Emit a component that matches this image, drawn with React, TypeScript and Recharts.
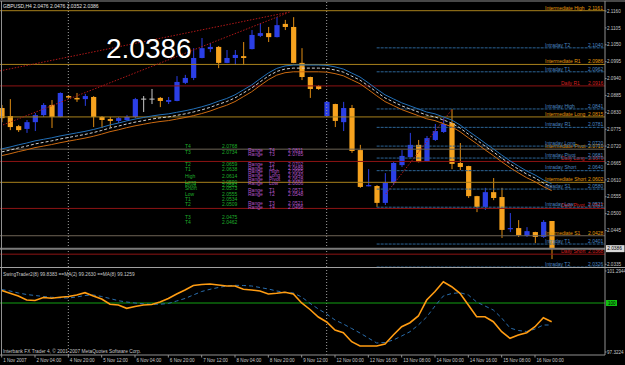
import React from 'react';
import { ComposedChart, Bar, Line, XAxis, YAxis, ReferenceLine } from 'recharts';

const FONT = '"Liberation Sans", Arial, sans-serif';

// ---------- data ----------
const symbolTitle = 'GBPUSD,H4  2.0476 2.0476 2.0352 2.0386';
const lastPrice = 2.0386;

const opens = [2.0844, 2.0818, 2.0785, 2.0776, 2.0798, 2.0821, 2.0854, 2.0815, 2.0883, 2.0877,
  2.0873, 2.0880, 2.0815, 2.0808, 2.0802, 2.0805, 2.0815, 2.0873, 2.0873, 2.0877,
  2.0864, 2.0867, 2.0926, 2.0942, 2.1007, 2.1036, 2.1043, 2.0991, 2.1007, 2.1013,
  2.1036, 2.1079, 2.1088, 2.1075, 2.1118, 2.1108, 2.0991, 2.0945, 2.0916, 2.0818,
  2.0857, 2.0798, 2.0844, 2.0707, 2.0590, 2.0590, 2.0535, 2.0600, 2.0658, 2.0684,
  2.0724, 2.0671, 2.0740, 2.0766, 2.0795, 2.0665, 2.0655, 2.0557, 2.0522, 2.0570,
  2.0554, 2.0450, 2.0453, 2.0427, 2.0440, 2.0424, 2.0476];
const highs = [2.0854, 2.0873, 2.0789, 2.0805, 2.0828, 2.0860, 2.0870, 2.0895, 2.0886, 2.0893,
  2.0890, 2.0883, 2.0818, 2.0815, 2.0815, 2.0821, 2.0877, 2.0883, 2.0906, 2.0880,
  2.0880, 2.0948, 2.0952, 2.1039, 2.1072, 2.1056, 2.1046, 2.1033, 2.1033, 2.1059,
  2.1098, 2.1121, 2.1108, 2.1140, 2.1131, 2.1140, 2.1039, 2.0946, 2.0919, 2.0867,
  2.0858, 2.0864, 2.0854, 2.0724, 2.0645, 2.0593, 2.0632, 2.0668, 2.0707, 2.0763,
  2.0740, 2.0753, 2.0792, 2.0811, 2.0841, 2.0730, 2.0656, 2.0558, 2.0584, 2.0616,
  2.0584, 2.0502, 2.0479, 2.0456, 2.0441, 2.0479, 2.0476];
const lows = [2.0798, 2.0772, 2.0766, 2.0763, 2.0769, 2.0815, 2.0779, 2.0814, 2.0877, 2.0864,
  2.0851, 2.0782, 2.0779, 2.0782, 2.0795, 2.0802, 2.0811, 2.0831, 2.0857, 2.0847,
  2.0857, 2.0866, 2.0922, 2.0935, 2.1006, 2.1026, 2.0974, 2.0990, 2.0984, 2.0984,
  2.1035, 2.1075, 2.1059, 2.1074, 2.1098, 2.0990, 2.0935, 2.0877, 2.0903, 2.0815,
  2.0782, 2.0769, 2.0698, 2.0584, 2.0589, 2.0522, 2.0528, 2.0593, 2.0652, 2.0683,
  2.0667, 2.0668, 2.0737, 2.0763, 2.0645, 2.0642, 2.0551, 2.0505, 2.0512, 2.0544,
  2.0421, 2.0440, 2.0424, 2.0424, 2.0404, 2.0421, 2.0352];
const closes = [2.0811, 2.0782, 2.0772, 2.0798, 2.0821, 2.0854, 2.0815, 2.0893, 2.0878, 2.0872,
  2.0883, 2.0815, 2.0805, 2.0802, 2.0811, 2.0815, 2.0873, 2.0873, 2.0873, 2.0867,
  2.0870, 2.0929, 2.0942, 2.1007, 2.1039, 2.1043, 2.0991, 2.1007, 2.1017, 2.1007,
  2.1082, 2.1088, 2.1075, 2.1114, 2.1108, 2.0991, 2.0945, 2.0906, 2.0906, 2.0864,
  2.0802, 2.0844, 2.0704, 2.0587, 2.0593, 2.0535, 2.0600, 2.0665, 2.0688, 2.0724,
  2.0668, 2.0746, 2.0769, 2.0792, 2.0662, 2.0652, 2.0557, 2.0522, 2.0570, 2.0551,
  2.0447, 2.0453, 2.0430, 2.0443, 2.0424, 2.0473, 2.0386];

const maFast = [2.0711, 2.0717, 2.0724, 2.0730, 2.0737, 2.0742, 2.0747, 2.0753, 2.0758, 2.0763,
  2.0768, 2.0774, 2.0781, 2.0789, 2.0795, 2.0802, 2.0808, 2.0813, 2.0818, 2.0822,
  2.0825, 2.0830, 2.0835, 2.0841, 2.0848, 2.0856, 2.0866, 2.0875, 2.0887, 2.0903,
  2.0919, 2.0939, 2.0958, 2.0973, 2.0981, 2.0984, 2.0984, 2.0984, 2.0984, 2.0983,
  2.0978, 2.0971, 2.0958, 2.0945, 2.0926, 2.0906, 2.0887, 2.0874, 2.0861, 2.0851,
  2.0841, 2.0831, 2.0825, 2.0815, 2.0805, 2.0789, 2.0769, 2.0750, 2.0730, 2.0711,
  2.0691, 2.0672, 2.0655, 2.0639, 2.0626, 2.0610, 2.0597];
const maMid = [2.0701, 2.0707, 2.0714, 2.0720, 2.0727, 2.0732, 2.0737, 2.0743, 2.0748, 2.0753,
  2.0758, 2.0764, 2.0771, 2.0779, 2.0785, 2.0792, 2.0798, 2.0803, 2.0808, 2.0812,
  2.0815, 2.0820, 2.0825, 2.0831, 2.0838, 2.0846, 2.0856, 2.0865, 2.0877, 2.0893,
  2.0909, 2.0929, 2.0948, 2.0963, 2.0971, 2.0974, 2.0974, 2.0974, 2.0974, 2.0973,
  2.0968, 2.0961, 2.0948, 2.0935, 2.0916, 2.0896, 2.0877, 2.0864, 2.0851, 2.0841,
  2.0831, 2.0821, 2.0815, 2.0805, 2.0795, 2.0779, 2.0759, 2.0740, 2.0720, 2.0701,
  2.0681, 2.0662, 2.0645, 2.0629, 2.0616, 2.0600, 2.0587];
const maSlow = [2.0689, 2.0695, 2.0702, 2.0708, 2.0715, 2.0720, 2.0725, 2.0731, 2.0736, 2.0741,
  2.0746, 2.0752, 2.0759, 2.0767, 2.0773, 2.0780, 2.0786, 2.0791, 2.0796, 2.0800,
  2.0803, 2.0808, 2.0813, 2.0819, 2.0826, 2.0834, 2.0844, 2.0853, 2.0865, 2.0881,
  2.0897, 2.0917, 2.0936, 2.0951, 2.0959, 2.0962, 2.0962, 2.0962, 2.0962, 2.0961,
  2.0956, 2.0949, 2.0936, 2.0923, 2.0904, 2.0884, 2.0865, 2.0852, 2.0839, 2.0829,
  2.0819, 2.0809, 2.0803, 2.0793, 2.0783, 2.0767, 2.0747, 2.0728, 2.0708, 2.0689,
  2.0669, 2.0650, 2.0633, 2.0617, 2.0604, 2.0588, 2.0575];

const swing = [100.338, 100.201, 100.069, 99.872, 99.848, 99.995, 99.956, 100.005, 100.044, 100.118,
  100.230, 100.069, 99.921, 99.662, 99.627, 99.465, 99.554, 99.627, 99.652, 99.774,
  99.946, 100.167, 100.363, 100.583, 100.632, 100.657, 100.608, 100.559, 100.559, 100.397,
  100.363, 100.314, 100.167, 100.201, 100.250, 100.167, 99.725, 99.407, 99.039, 98.794,
  98.401, 98.269, 97.828, 97.617, 97.617, 97.617, 97.715, 98.156, 98.563, 98.759,
  99.088, 99.872, 100.289, 100.770, 100.525, 100.201, 99.627, 99.053, 99.053, 98.808,
  98.318, 97.994, 98.156, 98.269, 98.563, 99.004, 98.808];
const swingMa = [100.387, 100.314, 100.216, 100.142, 100.093, 100.044, 100.005, 99.980, 99.970, 100.019,
  100.093, 100.118, 100.044, 99.946, 99.838, 99.774, 99.725, 99.686, 99.662, 99.666,
  99.701, 99.823, 99.946, 100.118, 100.289, 100.397, 100.485, 100.559, 100.593, 100.583,
  100.559, 100.485, 100.412, 100.314, 100.250, 100.216, 100.019, 99.711, 99.431, 99.186,
  98.892, 98.695, 98.475, 98.254, 98.009, 97.764, 97.788, 97.911, 98.107, 98.318,
  98.646, 99.039, 99.578, 100.069, 100.191, 100.230, 100.118, 99.774, 99.578, 99.382,
  98.990, 98.499, 98.377, 98.328, 98.450, 98.646, 98.646];

const timeLabels = ['1 Nov 2007', '2 Nov 04:00', '4 Nov 20:00', '5 Nov 12:00', '6 Nov 04:00', '6 Nov 20:00',
  '7 Nov 12:00', '8 Nov 04:00', '8 Nov 20:00', '9 Nov 12:00', '12 Nov 00:00', '12 Nov 16:00',
  '13 Nov 08:00', '14 Nov 00:00', '14 Nov 16:00', '15 Nov 08:00', '16 Nov 00:00'];
const timeLabelBars = [0, 4, 8, 12, 16, 20, 24, 28, 32, 36, 40, 44, 48, 52, 56, 60, 64];
const weekStartBars = [8, 39];

const priceTicks = [2.1160, 2.1105, 2.1050, 2.0995, 2.0940, 2.0885, 2.0830, 2.0775, 2.0720,
  2.0665, 2.0610, 2.0555, 2.0500, 2.0445, 2.0335];
const oscTicks = [101.2944, 97.3224];
const oscLevel = 99.725;
const oscLevelText = '100';

const fullLevels = [
  { name: 'Intermediate High', value: 2.1161, kind: 'inter' },
  { name: 'Intermediate R1', value: 2.0986, kind: 'inter' },
  { name: 'Daily  R1', value: 2.0916, kind: 'daily' },
  { name: 'Intermediate Long', value: 2.0815, kind: 'inter' },
  { name: 'Intermediate Pivot', value: 2.0710, kind: 'interGray' },
  { name: 'Daily Long', value: 2.0670, kind: 'daily' },
  { name: 'Intermediate Short', value: 2.0602, kind: 'inter' },
  { name: 'Daily Pivot', value: 2.0517, kind: 'daily' },
  { name: 'Intermediate  S1', value: 2.0428, kind: 'interGray' },
  { name: 'Daily Short', value: 2.0368, kind: 'daily' },
];
const intradayStartBar = 45;
const intradayLevels = [
  { name: 'Intraday   T2', value: 2.1040 },
  { name: 'Intraday   T1', value: 2.0962 },
  { name: 'Intraday High', value: 2.0841 },
  { name: 'Intraday   R1', value: 2.0781 },
  { name: 'Intraday Long', value: 2.0720 },
  { name: 'Intraday Pivot', value: 2.0681 },
  { name: 'Intraday Short', value: 2.0640 },
  { name: 'Intraday   S1', value: 2.0580 },
  { name: 'Intraday Low', value: 2.0521 },
  { name: 'Intraday   T1', value: 2.0401 },
  { name: 'Intraday   T2', value: 2.0326 },
];

const trendLines = [
  { x1: -0.2, y1: 2.0965, x2: 34.6, y2: 2.1157 },
  { x1: 0.16, y1: 2.0789, x2: 34.24, y2: 2.1153 },
  { x1: 46.1, y1: 2.0564, x2: 54.0, y2: 2.0838 },
];

const statNames = ['T4', 'T3', 'T2', 'T1', 'High', 'Long', 'Pivot', 'Short', 'Low', 'T1', 'T2', 'T3', 'T4'];
const statValues = ['2.0768', '2.0734', '2.0659', '2.0638', '2.0614', '2.0590', '2.0582', '2.0573', '2.0555', '2.0534', '2.0509', '2.0475', '2.0462'];
const rangeTags = ['T4', 'T3', 'T2', 'T1', 'High', 'Long', 'Pivot', 'Low', 'T1', 'T2', 'T3', 'T4'];
const rangeValues = ['2.0811', '2.0785', '2.0702', '2.0688', '2.0665', '2.0640', '2.0628', '2.0606', '2.0571', '2.0548', '2.0521', '2.0496'];

const oscHeader = 'SwingTrader2(8) 99.8383  ==MA(2) 99.2630  ==MA(8) 99.1259';
const footer = 'Interbank FX Trader 4, \u00A9 2001-2007 MetaQuotes Software Corp.';

// ---------- layout / styles ----------
const STAT_ROW_Y = [148, 153.5, 166, 171, 177.5, 184, 187, 190, 195.5, 201, 206, 219, 224];
const RANGE_ROW_Y = [152, 156, 166, 169.5, 173, 177, 180.5, 185, 192, 196, 205, 209];

const BULL = '#2b3fe6';
const BEAR = '#f6a21e';
const DOJI = '#c8c8c8';
const X_DOMAIN: [number, number] = [-0.2, 72.4];

const rows = opens.map((o, i) => ({
  i,
  open: o,
  high: highs[i],
  low: lows[i],
  close: closes[i],
  range: [lows[i], highs[i]],
  maFast: maFast[i],
  maMid: maMid[i],
  maSlow: maSlow[i],
  swing: swing[i],
  swingMa: swingMa[i],
}));

const Candle = (props: any) => {
  const { x, y, width, height, payload } = props;
  if (!payload || x == null || y == null) return null;
  const cx = x + (width || 0) / 2;
  const top = Math.min(y, y + height);
  const h = Math.abs(height);
  const span = payload.high - payload.low;
  const py = (v: number) => (span > 0 ? top + ((payload.high - v) / span) * h : top);
  const yo = py(payload.open);
  const yc = py(payload.close);
  const bull = payload.close > payload.open;
  const bear = payload.close < payload.open;
  const color = bull ? BULL : bear ? BEAR : DOJI;
  const bodyTop = Math.min(yo, yc);
  const bodyH = Math.max(Math.abs(yc - yo), 1.2);
  return (
    <g>
      <line x1={cx} x2={cx} y1={top} y2={top + h} stroke={bear ? '#e08c12' : color} strokeWidth={1} />
      {bull || bear ? (
        <rect x={cx - 2.6} y={bodyTop} width={5.2} height={bodyH} fill={color} />
      ) : (
        <line x1={cx - 2.6} x2={cx + 2.6} y1={yo} y2={yo} stroke={color} strokeWidth={1} />
      )}
    </g>
  );
};

const levelStyle: Record<string, { line: string; text: string; nameOffset: number }> = {
  inter: { line: '#a8801c', text: '#e39a0c', nameOffset: 60 },
  interGray: { line: '#6e6456', text: '#e39a0c', nameOffset: 60 },
  daily: { line: '#8e1414', text: '#d42020', nameOffset: 44 },
  intraday: { line: '#2c6496', text: '#4b86c2', nameOffset: 60 },
};

const makeLevelLabel = (name: string, value: number, kind: string) => (props: any) => {
  const vb = props.viewBox;
  if (!vb) return null;
  const st = levelStyle[kind];
  const right = vb.x + vb.width;
  const y = vb.y - 1.2;
  return (
    <g>
      <text x={right - st.nameOffset} y={y} fontSize={5} fill={st.text} fontFamily={FONT}>{name}</text>
      <text x={right - 17} y={y} fontSize={5} fill={st.text} fontFamily={FONT}>{value.toFixed(4)}</text>
    </g>
  );
};

const priceBox = (props: any) => {
  const vb = props.viewBox;
  if (!vb) return null;
  const x = vb.x + vb.width + 1;
  return (
    <g>
      <rect x={x} y={vb.y - 3.5} width={18.5} height={7} fill="#d8d8d8" />
      <text x={x + 1.2} y={vb.y + 1.8} fontSize={4.8} fill="#000" fontFamily={FONT}>{lastPrice.toFixed(4)}</text>
    </g>
  );
};

const levelBox = (props: any) => {
  const vb = props.viewBox;
  if (!vb) return null;
  const x = vb.x + vb.width + 1;
  return (
    <g>
      <rect x={x} y={vb.y - 3} width={11} height={6} fill="#10c010" />
      <text x={x + 2} y={vb.y + 1.7} fontSize={4.6} fill="#000" fontFamily={FONT}>{oscLevelText}</text>
    </g>
  );
};

const TimeTick = (props: any) => {
  const { x, y, payload } = props;
  const idx = timeLabelBars.indexOf(payload.value);
  if (idx < 0) return null;
  return (
    <g>
      <line x1={x} x2={x} y1={y - 2} y2={y + 0.5} stroke="#909090" strokeWidth={1} />
      <text x={x + 1.5} y={y + 5} fontSize={4.6} fill="#c8c8c8" fontFamily={FONT}>{timeLabels[idx]}</text>
    </g>
  );
};

const axisTick = { fontSize: 4.6, fill: '#c8c8c8', fontFamily: FONT };

export default function App() {
  return (
    <div style={{ position: 'absolute', left: 0, top: 0, width: 625, height: 365, background: '#000', overflow: 'hidden' }}>
      {/* main price panel */}
      <div style={{ position: 'absolute', left: 0, top: 0 }}>
        <ComposedChart width={625} height={268} data={rows} margin={{ top: 1, right: 0, bottom: 1, left: 0 }}>
          <XAxis dataKey="i" type="number" domain={X_DOMAIN} hide allowDataOverflow />
          <YAxis
            orientation="right"
            width={20}
            domain={[2.03262, 2.11926]}
            allowDataOverflow
            ticks={priceTicks}
            interval={0}
            tick={axisTick}
            tickSize={1.5}
            tickMargin={0.5}
            tickLine={{ stroke: '#909090' }}
            axisLine={{ stroke: '#909090' }}
            tickFormatter={(v: number) => v.toFixed(4)}
          />
          {weekStartBars.map((b) => (
            <ReferenceLine key={'w' + b} x={b} stroke="#a0a0a0" strokeDasharray="1 2" />
          ))}
          {fullLevels.map((l, k) => (
            <ReferenceLine
              key={'f' + k}
              y={l.value}
              stroke={levelStyle[l.kind].line}
              strokeWidth={1}
              label={makeLevelLabel(l.name, l.value, l.kind)}
            />
          ))}
          {intradayLevels.map((l, k) => (
            <ReferenceLine
              key={'d' + k}
              segment={[{ x: intradayStartBar, y: l.value }, { x: X_DOMAIN[1], y: l.value }]}
              stroke={levelStyle.intraday.line}
              strokeWidth={1}
              strokeDasharray="3 1"
              ifOverflow="visible"
              label={makeLevelLabel(l.name, l.value, 'intraday')}
            />
          ))}
          <ReferenceLine y={lastPrice} stroke="#7a7a7a" strokeWidth={2} label={priceBox} />
          {trendLines.map((t, k) => (
            <ReferenceLine
              key={'t' + k}
              segment={[{ x: t.x1, y: t.y1 }, { x: t.x2, y: t.y2 }]}
              stroke="#b01818"
              strokeDasharray="1.5 1.5"
              ifOverflow="visible"
            />
          ))}
          <Line dataKey="maFast" stroke="#2270b8" strokeWidth={1} dot={false} activeDot={false} isAnimationActive={false} />
          <Line dataKey="maMid" stroke="#d0d0d0" strokeWidth={1} strokeDasharray="3 2" dot={false} activeDot={false} isAnimationActive={false} />
          <Line dataKey="maSlow" stroke="#cc6a10" strokeWidth={1} dot={false} activeDot={false} isAnimationActive={false} />
          <Bar dataKey="range" barSize={5} shape={Candle} isAnimationActive={false} />
        </ComposedChart>
      </div>

      {/* oscillator panel */}
      <div style={{ position: 'absolute', left: 0, top: 268 }}>
        <ComposedChart width={625} height={97} data={rows} margin={{ top: 0, right: 0, bottom: 0, left: 0 }}>
          <XAxis
            dataKey="i"
            type="number"
            domain={X_DOMAIN}
            allowDataOverflow
            ticks={timeLabelBars}
            interval={0}
            height={10}
            tickSize={2}
            tickMargin={0}
            tickLine={false}
            axisLine={{ stroke: '#909090' }}
            tick={<TimeTick />}
          />
          <YAxis
            orientation="right"
            width={20}
            domain={[97.1753, 101.4415]}
            allowDataOverflow
            ticks={oscTicks}
            interval={0}
            tick={axisTick}
            tickSize={1.5}
            tickMargin={0.5}
            tickLine={{ stroke: '#909090' }}
            axisLine={{ stroke: '#909090' }}
            tickFormatter={(v: number) => v.toFixed(4)}
          />
          {weekStartBars.map((b) => (
            <ReferenceLine key={'ow' + b} x={b} stroke="#a0a0a0" strokeDasharray="1 2" />
          ))}
          <ReferenceLine y={oscLevel} stroke="#12a012" strokeWidth={1} label={levelBox} />
          <Line dataKey="swingMa" stroke="#2a6eae" strokeWidth={1} strokeDasharray="4 3" dot={false} activeDot={false} isAnimationActive={false} />
          <Line dataKey="swing" stroke="#ff9c12" strokeWidth={1.6} dot={false} activeDot={false} isAnimationActive={false} />
        </ComposedChart>
      </div>

      {/* frame and text overlay */}
      <svg width={625} height={365} style={{ position: 'absolute', left: 0, top: 0, pointerEvents: 'none' }}>
        <line x1={0} x2={625} y1={1} y2={1} stroke="#909090" strokeWidth={1} />
        <line x1={1.5} x2={1.5} y1={1} y2={355} stroke="#909090" strokeWidth={1} />
        <line x1={0} x2={625} y1={267.5} y2={267.5} stroke="#a0a0a0" strokeWidth={1} />
        <text x={3} y={7.5} fontSize={5} fill="#e0e0e0" fontFamily={FONT}>{symbolTitle}</text>
        <text x={106} y={58} fontSize={28} fill="#ffffff" fontFamily={FONT}>{lastPrice.toFixed(4)}</text>
        {statNames.map((n, k) => (
          <g key={'s' + k}>
            <text x={185} y={STAT_ROW_Y[k]} fontSize={5} fill="#1fae2a" fontFamily={FONT}>{n}</text>
            <text x={222} y={STAT_ROW_Y[k]} fontSize={5} fill="#1fae2a" fontFamily={FONT}>{statValues[k]}</text>
          </g>
        ))}
        {rangeTags.map((n, k) => (
          <g key={'r' + k}>
            <text x={248} y={RANGE_ROW_Y[k]} fontSize={5} fill="#b455c8" fontFamily={FONT}>Range</text>
            <text x={269} y={RANGE_ROW_Y[k]} fontSize={5} fill="#b455c8" fontFamily={FONT}>{n}</text>
            <text x={288} y={RANGE_ROW_Y[k]} fontSize={5} fill="#b455c8" fontFamily={FONT}>{rangeValues[k]}</text>
          </g>
        ))}
        <text x={3} y={276} fontSize={4.8} fill="#c8c8c8" fontFamily={FONT}>{oscHeader}</text>
        <text x={3} y={352.5} fontSize={4.8} fill="#c8c8c8" fontFamily={FONT}>{footer}</text>
      </svg>
    </div>
  );
}
